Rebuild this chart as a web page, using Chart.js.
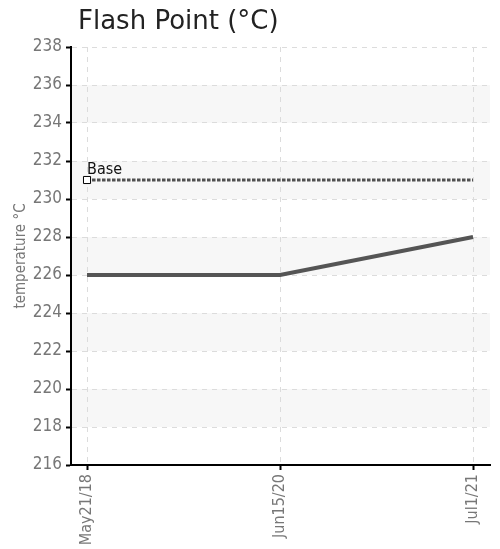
<!DOCTYPE html>
<html>
<head>
<meta charset="utf-8">
<script src="https://cdn.jsdelivr.net/npm/chart.js@4"></script>
<style>
  html, body { margin: 0; padding: 0; background: #fff; }
  canvas { display: block; }
</style>
</head>
<body>
<canvas id="chart" width="500" height="549"></canvas>
<script>
(() => {
  const dates = ["May21/18", "Jun15/20", "Jul1/21"];
  const flashPoint = [226, 226, 228];
  const baseValue = [231, 231];
  const baseLabel = "Base";
  const yTicks = [216, 218, 220, 222, 224, 226, 228, 230, 232, 234, 236, 238];
  const shadedBands = [[234, 236], [230, 232], [226, 228], [222, 224], [218, 220]];

  // "condensed" goes in the weight slot so the canvas font string asks for the narrow face
  const narrow = "'DejaVu Sans Condensed', 'DejaVu Sans', sans-serif";
  const narrowFont = (size) => ({ family: narrow, size, weight: "condensed" });

  const bandsPlugin = {
    id: "bands",
    beforeDraw(chart) {
      const { ctx, chartArea } = chart;
      const y = chart.scales.y;
      ctx.save();
      ctx.fillStyle = "#f7f7f7";
      shadedBands.forEach(([lo, hi]) => {
        const top = y.getPixelForValue(hi);
        const bottom = y.getPixelForValue(lo);
        ctx.fillRect(chartArea.left, top, chartArea.right - chartArea.left, bottom - top);
      });
      ctx.restore();
    },
    afterDraw(chart) {
      const { ctx } = chart;
      ctx.save();
      ctx.fillStyle = "#222";
      ctx.font = "26px 'DejaVu Sans', sans-serif";
      ctx.textBaseline = "alphabetic";
      ctx.fillText("Flash Point (°C)", 78, 29);
      const pt = chart.getDatasetMeta(1).data[0];
      ctx.fillStyle = "#111";
      ctx.font = "condensed 16px " + narrow;
      ctx.fillText(baseLabel, pt.x, pt.y - 6);
      ctx.restore();
    }
  };

  const axisGrid = {
    color: "#dcdcdc",
    tickColor: "#000",
    tickLength: 5,
    tickBorderDash: [],
    tickWidth: 2
  };
  const axisBorder = { display: true, color: "#000", width: 2, dash: [5, 5] };

  new Chart(document.getElementById("chart"), {
    type: "line",
    data: {
      datasets: [
        {
          label: "Flash Point",
          data: flashPoint.map((v, i) => ({ x: i, y: v })),
          borderColor: "#555",
          borderWidth: 4,
          pointRadius: 0,
          tension: 0
        },
        {
          label: baseLabel,
          data: baseValue.map((v, i) => ({ x: i * (dates.length - 1), y: v })),
          borderColor: "#505050",
          borderWidth: 3,
          borderDash: [3.5, 1.5],
          pointStyle: "rect",
          pointRadius: [5, 0],
          pointBorderWidth: 1,
          pointBorderColor: "#000",
          pointBackgroundColor: "#fff"
        }
      ]
    },
    options: {
      responsive: false,
      animation: false,
      layout: { padding: { top: 47, right: 10, left: 0, bottom: 0 } },
      plugins: { legend: { display: false }, tooltip: { enabled: false } },
      scales: {
        x: {
          type: "linear",
          min: -0.083,
          max: 2.088,
          afterFit(scale) { scale.height = 84; },
          afterBuildTicks(scale) {
            scale.ticks = dates.map((_, i) => ({ value: i }));
          },
          border: axisBorder,
          grid: axisGrid,
          ticks: {
            autoSkip: false,
            maxRotation: 90,
            minRotation: 90,
            padding: 4,
            color: "#777",
            font: narrowFont(16),
            callback: (v) => dates[v]
          }
        },
        y: {
          min: 216,
          max: 238,
          afterFit(scale) { scale.width = 71; },
          afterBuildTicks(scale) {
            scale.ticks = yTicks.map((v) => ({ value: v }));
          },
          border: axisBorder,
          grid: axisGrid,
          ticks: {
            padding: 4,
            color: "#777",
            font: narrowFont(17)
          },
          title: {
            display: true,
            text: "temperature °C",
            color: "#777",
            font: narrowFont(15),
            padding: { top: 12, bottom: 0 }
          }
        }
      }
    },
    plugins: [bandsPlugin]
  });
})();
</script>
</body>
</html>
